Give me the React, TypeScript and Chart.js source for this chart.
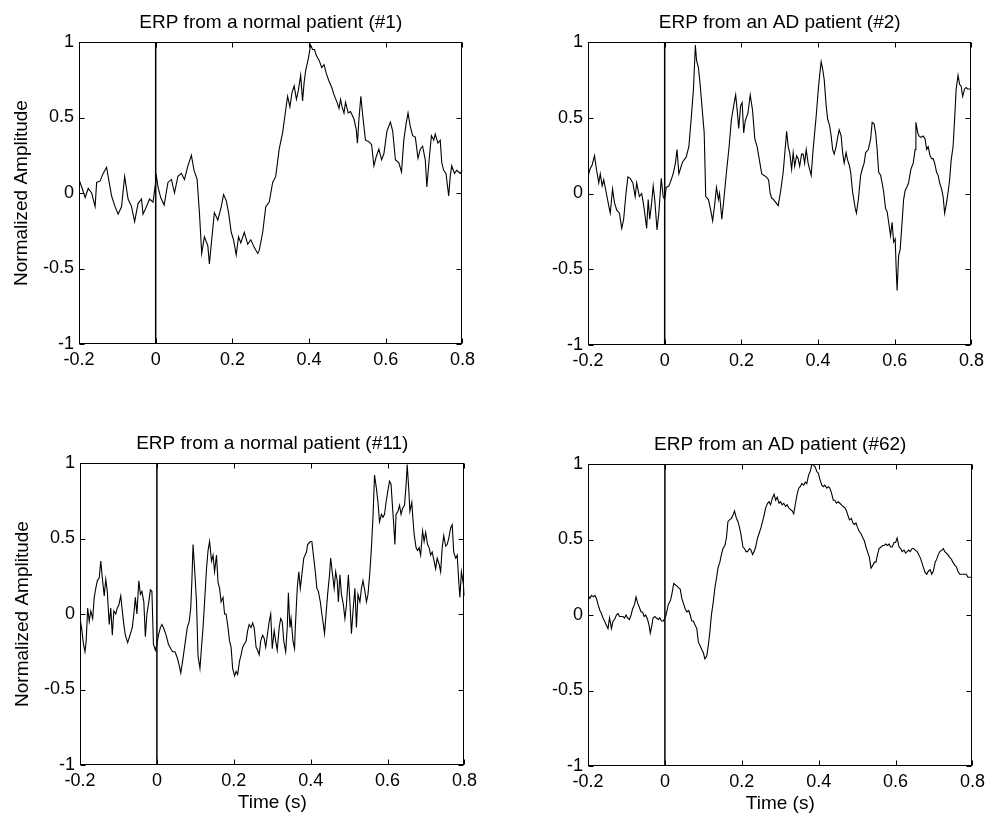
import React, { useEffect, useRef } from 'react';
import { Chart, registerables } from 'chart.js';

Chart.register(...registerables);

// ---------- Axis definitions ----------
const X_TICKS = [-0.2, 0, 0.2, 0.4, 0.6, 0.8];
const X_TICK_LABELS = ['-0.2', '0', '0.2', '0.4', '0.6', '0.8'];
const Y_TICKS = [-1, -0.5, 0, 0.5, 1];
const Y_TICK_LABELS = ['-1', '-0.5', '0', '0.5', '1'];
const X_RANGE = [-0.2, 0.8];
const Y_RANGE = [-1, 1];
const STIMULUS_ONSET = 0;
const X_AXIS_TITLE = 'Time (s)';
const Y_AXIS_TITLE = 'Normalized Amplitude';

// ---------- Panel titles ----------
const TITLES = [
  'ERP from a normal patient (#1)',
  'ERP from an AD patient (#2)',
  'ERP from a normal patient (#11)',
  'ERP from an AD patient (#62)',
];

// ---------- Series: [time (s), normalized amplitude] ----------
const ERP_NORMAL_1: [number, number][] = [
  [-0.2, 0.09], [-0.193, 0.04], [-0.184, -0.03], [-0.176, 0.03], [-0.167, 0.0], [-0.158, -0.09], [-0.154, 0.07],
  [-0.145, 0.08], [-0.137, 0.13], [-0.128, 0.17], [-0.124, 0.11], [-0.115, -0.02], [-0.106, -0.09], [-0.098, -0.14],
  [-0.089, -0.09], [-0.081, 0.11], [-0.072, -0.04], [-0.063, -0.09], [-0.055, -0.19], [-0.046, -0.07], [-0.037, -0.04],
  [-0.033, -0.14], [-0.024, -0.09], [-0.016, -0.04], [-0.007, -0.06], [0.002, 0.11], [0.006, 0.04], [0.013, -0.03],
  [0.022, -0.08], [0.032, 0.07], [0.041, 0.09], [0.049, 0.0], [0.058, 0.11], [0.067, 0.13], [0.075, 0.09],
  [0.084, 0.18], [0.093, 0.25], [0.1, 0.15], [0.108, 0.09], [0.114, -0.13], [0.12, -0.4], [0.127, -0.29],
  [0.136, -0.35], [0.14, -0.47], [0.146, -0.31], [0.153, -0.13], [0.162, -0.18], [0.171, -0.09], [0.177, -0.01],
  [0.184, -0.05], [0.19, -0.13], [0.197, -0.26], [0.203, -0.31], [0.21, -0.41], [0.216, -0.29], [0.222, -0.33],
  [0.231, -0.26], [0.24, -0.34], [0.248, -0.31], [0.257, -0.36], [0.266, -0.4], [0.27, -0.38], [0.279, -0.26],
  [0.287, -0.09], [0.296, -0.06], [0.305, 0.07], [0.313, 0.11], [0.322, 0.29], [0.331, 0.4], [0.339, 0.55],
  [0.344, 0.64], [0.35, 0.57], [0.355, 0.66], [0.361, 0.71], [0.367, 0.62], [0.372, 0.68], [0.378, 0.78],
  [0.383, 0.61], [0.387, 0.73], [0.391, 0.81], [0.398, 0.89], [0.404, 0.98], [0.409, 0.95], [0.414, 0.95],
  [0.419, 0.91], [0.426, 0.88], [0.433, 0.83], [0.439, 0.85], [0.445, 0.79], [0.452, 0.74], [0.459, 0.7],
  [0.465, 0.65], [0.473, 0.6], [0.478, 0.56], [0.482, 0.62], [0.486, 0.57], [0.491, 0.53], [0.495, 0.6],
  [0.502, 0.53], [0.508, 0.54], [0.517, 0.49], [0.523, 0.42], [0.526, 0.33], [0.53, 0.49], [0.535, 0.64],
  [0.54, 0.51], [0.547, 0.35], [0.556, 0.34], [0.563, 0.32], [0.569, 0.18], [0.575, 0.24], [0.582, 0.29],
  [0.589, 0.22], [0.595, 0.26], [0.603, 0.41], [0.612, 0.47], [0.618, 0.41], [0.625, 0.22], [0.634, 0.2],
  [0.641, 0.14], [0.647, 0.35], [0.653, 0.46], [0.658, 0.53], [0.664, 0.44], [0.67, 0.38], [0.677, 0.37],
  [0.684, 0.23], [0.69, 0.29], [0.696, 0.31], [0.703, 0.22], [0.707, 0.04], [0.713, 0.22], [0.719, 0.38],
  [0.725, 0.35], [0.729, 0.39], [0.736, 0.33], [0.742, 0.35], [0.746, 0.2], [0.751, 0.15], [0.757, 0.13],
  [0.764, -0.02], [0.768, 0.11], [0.772, 0.18], [0.779, 0.13], [0.785, 0.15], [0.794, 0.13], [0.8, 0.15],
];

const ERP_AD_2: [number, number][] = [
  [-0.2, 0.11], [-0.195, 0.16], [-0.189, 0.19], [-0.183, 0.25], [-0.178, 0.16], [-0.172, 0.07], [-0.168, 0.13],
  [-0.163, 0.05], [-0.159, 0.09], [-0.152, 0.0], [-0.146, -0.08], [-0.142, -0.13], [-0.136, 0.03], [-0.131, -0.06],
  [-0.125, -0.11], [-0.118, -0.13], [-0.112, -0.23], [-0.107, -0.17], [-0.101, 0.0], [-0.096, 0.11], [-0.09, 0.1],
  [-0.083, 0.07], [-0.077, -0.02], [-0.073, 0.07], [-0.066, -0.02], [-0.06, 0.0], [-0.056, -0.06], [-0.052, -0.13],
  [-0.047, -0.23], [-0.043, -0.04], [-0.039, -0.17], [-0.034, -0.06], [-0.03, 0.05], [-0.026, -0.04], [-0.02, -0.24],
  [-0.015, -0.12], [-0.009, 0.1], [-0.004, -0.02], [0.0, -0.04], [0.004, 0.04], [0.011, 0.05], [0.017, 0.09],
  [0.023, 0.14], [0.028, 0.2], [0.032, 0.29], [0.037, 0.13], [0.043, 0.18], [0.047, 0.21], [0.056, 0.24],
  [0.063, 0.31], [0.069, 0.49], [0.075, 0.69], [0.08, 0.98], [0.083, 0.88], [0.088, 0.83], [0.092, 0.73],
  [0.097, 0.58], [0.103, 0.4], [0.107, -0.02], [0.114, -0.04], [0.12, -0.11], [0.125, -0.18], [0.13, -0.08],
  [0.135, 0.04], [0.14, -0.04], [0.143, 0.0], [0.149, -0.17], [0.155, -0.02], [0.161, 0.14], [0.168, 0.31],
  [0.174, 0.49], [0.18, 0.58], [0.185, 0.65], [0.189, 0.55], [0.193, 0.43], [0.198, 0.58], [0.202, 0.6],
  [0.206, 0.4], [0.21, 0.48], [0.217, 0.53], [0.223, 0.65], [0.229, 0.55], [0.235, 0.36], [0.241, 0.31],
  [0.247, 0.22], [0.253, 0.13], [0.258, 0.12], [0.265, 0.11], [0.271, 0.09], [0.275, 0.0], [0.279, -0.03],
  [0.284, -0.04], [0.29, -0.06], [0.296, -0.08], [0.302, 0.01], [0.309, 0.14], [0.314, 0.29], [0.318, 0.41],
  [0.322, 0.31], [0.326, 0.27], [0.331, 0.16], [0.335, 0.27], [0.339, 0.18], [0.344, 0.25], [0.348, 0.23],
  [0.352, 0.18], [0.357, 0.26], [0.361, 0.26], [0.365, 0.2], [0.369, 0.29], [0.374, 0.2], [0.378, 0.16],
  [0.382, 0.12], [0.387, 0.29], [0.391, 0.4], [0.395, 0.51], [0.4, 0.67], [0.404, 0.78], [0.408, 0.87],
  [0.412, 0.82], [0.416, 0.75], [0.421, 0.58], [0.425, 0.49], [0.43, 0.45], [0.434, 0.38], [0.438, 0.29],
  [0.442, 0.26], [0.447, 0.31], [0.451, 0.37], [0.455, 0.42], [0.46, 0.38], [0.464, 0.27], [0.468, 0.2],
  [0.473, 0.27], [0.477, 0.22], [0.481, 0.19], [0.485, 0.14], [0.49, 0.01], [0.497, -0.1], [0.5, -0.13],
  [0.505, -0.04], [0.511, 0.12], [0.515, 0.16], [0.52, 0.2], [0.524, 0.27], [0.531, 0.29], [0.537, 0.36],
  [0.541, 0.47], [0.546, 0.46], [0.55, 0.4], [0.554, 0.29], [0.558, 0.14], [0.563, 0.12], [0.567, 0.07],
  [0.571, 0.01], [0.576, -0.1], [0.58, -0.12], [0.584, -0.19], [0.589, -0.28], [0.593, -0.19], [0.597, -0.32],
  [0.601, -0.3], [0.604, -0.52], [0.606, -0.64], [0.61, -0.41], [0.614, -0.37], [0.619, -0.19], [0.623, -0.04],
  [0.627, 0.02], [0.631, 0.04], [0.636, 0.07], [0.642, 0.16], [0.648, 0.2], [0.653, 0.29], [0.655, 0.47],
  [0.66, 0.4], [0.663, 0.38], [0.668, 0.37], [0.674, 0.38], [0.679, 0.36], [0.683, 0.29], [0.687, 0.31],
  [0.692, 0.25], [0.696, 0.23], [0.7, 0.23], [0.704, 0.2], [0.709, 0.14], [0.713, 0.12], [0.717, 0.07],
  [0.722, 0.03], [0.726, -0.02], [0.73, -0.13], [0.735, -0.06], [0.739, 0.01], [0.743, 0.09], [0.747, 0.22],
  [0.752, 0.31], [0.756, 0.49], [0.76, 0.69], [0.765, 0.78], [0.769, 0.72], [0.773, 0.71], [0.777, 0.64],
  [0.782, 0.69], [0.786, 0.7], [0.79, 0.69], [0.8, 0.69],
];

const ERP_NORMAL_11: [number, number][] = [
  [-0.2, -0.03], [-0.196, -0.09], [-0.191, -0.2], [-0.187, -0.25], [-0.184, -0.18], [-0.18, 0.04], [-0.176, -0.05],
  [-0.172, 0.02], [-0.167, -0.03], [-0.163, 0.11], [-0.159, 0.17], [-0.155, 0.22], [-0.15, 0.24], [-0.146, 0.35],
  [-0.142, 0.24], [-0.137, 0.12], [-0.133, 0.23], [-0.129, 0.15], [-0.124, -0.07], [-0.12, 0.04], [-0.116, -0.14],
  [-0.112, 0.02], [-0.107, 0.0], [-0.103, 0.04], [-0.099, 0.06], [-0.094, 0.12], [-0.09, 0.02], [-0.086, -0.07],
  [-0.082, -0.14], [-0.076, -0.19], [-0.07, -0.14], [-0.064, -0.09], [-0.06, 0.0], [-0.056, 0.11], [-0.052, 0.0],
  [-0.047, 0.22], [-0.043, 0.13], [-0.039, 0.15], [-0.034, 0.08], [-0.03, -0.15], [-0.026, 0.0], [-0.021, 0.08],
  [-0.017, 0.16], [-0.013, 0.15], [-0.009, -0.2], [-0.004, -0.24], [0.0, -0.2], [0.004, -0.14], [0.009, -0.09],
  [0.013, -0.07], [0.017, -0.09], [0.024, -0.14], [0.03, -0.2], [0.036, -0.23], [0.041, -0.25], [0.047, -0.25],
  [0.053, -0.29], [0.058, -0.34], [0.062, -0.39], [0.067, -0.31], [0.073, -0.2], [0.079, -0.09], [0.084, -0.05],
  [0.088, 0.04], [0.091, 0.22], [0.094, 0.46], [0.099, 0.26], [0.103, 0.08], [0.107, -0.28], [0.112, -0.36],
  [0.116, -0.22], [0.12, -0.09], [0.124, 0.08], [0.129, 0.3], [0.133, 0.42], [0.137, 0.48], [0.142, 0.35],
  [0.146, 0.39], [0.15, 0.28], [0.155, 0.39], [0.159, 0.21], [0.163, 0.17], [0.167, 0.08], [0.172, 0.11],
  [0.176, 0.0], [0.18, 0.0], [0.185, -0.09], [0.189, -0.18], [0.193, -0.22], [0.197, -0.36], [0.202, -0.41],
  [0.206, -0.38], [0.21, -0.4], [0.215, -0.31], [0.219, -0.27], [0.223, -0.22], [0.227, -0.2], [0.232, -0.18],
  [0.236, -0.11], [0.24, -0.07], [0.245, -0.09], [0.249, -0.06], [0.253, -0.09], [0.258, -0.22], [0.262, -0.24],
  [0.266, -0.27], [0.27, -0.18], [0.275, -0.14], [0.279, -0.16], [0.283, -0.22], [0.292, -0.05], [0.296, 0.0],
  [0.3, -0.23], [0.305, -0.11], [0.309, -0.18], [0.313, -0.24], [0.318, -0.09], [0.322, -0.03], [0.326, -0.05],
  [0.33, -0.18], [0.335, -0.25], [0.339, -0.09], [0.342, 0.14], [0.346, -0.09], [0.349, -0.03], [0.354, -0.18],
  [0.358, -0.23], [0.36, -0.09], [0.365, 0.17], [0.369, 0.28], [0.373, 0.17], [0.377, 0.26], [0.382, 0.37],
  [0.389, 0.41], [0.392, 0.46], [0.399, 0.48], [0.403, 0.48], [0.407, 0.39], [0.412, 0.28], [0.416, 0.17],
  [0.42, 0.15], [0.425, 0.08], [0.429, 0.0], [0.433, -0.07], [0.436, -0.13], [0.44, 0.0], [0.444, 0.13],
  [0.449, 0.26], [0.452, 0.37], [0.456, 0.28], [0.461, 0.17], [0.465, 0.28], [0.469, 0.22], [0.472, 0.08],
  [0.476, 0.26], [0.48, 0.13], [0.485, 0.06], [0.489, -0.03], [0.493, 0.06], [0.498, 0.26], [0.502, 0.08],
  [0.506, -0.13], [0.51, 0.02], [0.515, 0.17], [0.519, -0.09], [0.523, 0.13], [0.528, 0.08], [0.532, 0.17],
  [0.536, 0.22], [0.541, 0.15], [0.545, 0.08], [0.549, 0.13], [0.554, 0.28], [0.558, 0.44], [0.562, 0.64],
  [0.566, 0.92], [0.571, 0.83], [0.575, 0.74], [0.579, 0.61], [0.584, 0.66], [0.588, 0.64], [0.592, 0.66],
  [0.596, 0.74], [0.601, 0.82], [0.605, 0.88], [0.609, 0.86], [0.612, 0.74], [0.616, 0.59], [0.619, 0.46],
  [0.622, 0.66], [0.627, 0.68], [0.631, 0.72], [0.635, 0.66], [0.639, 0.7], [0.644, 0.72], [0.648, 0.85],
  [0.651, 0.99], [0.655, 0.83], [0.658, 0.68], [0.663, 0.74], [0.665, 0.66], [0.669, 0.53], [0.674, 0.44],
  [0.678, 0.42], [0.682, 0.44], [0.686, 0.39], [0.691, 0.55], [0.695, 0.48], [0.699, 0.54], [0.704, 0.46],
  [0.708, 0.44], [0.712, 0.39], [0.716, 0.41], [0.721, 0.35], [0.725, 0.3], [0.729, 0.37], [0.734, 0.33],
  [0.738, 0.28], [0.742, 0.44], [0.746, 0.52], [0.751, 0.45], [0.755, 0.46], [0.759, 0.5], [0.764, 0.57],
  [0.768, 0.59], [0.772, 0.41], [0.777, 0.37], [0.781, 0.39], [0.785, 0.22], [0.788, 0.11], [0.792, 0.28],
  [0.797, 0.2], [0.8, 0.12],
];

const ERP_AD_62: [number, number][] = [
  [-0.2, 0.13], [-0.195, 0.11], [-0.191, 0.13], [-0.186, 0.12], [-0.182, 0.13], [-0.178, 0.11], [-0.174, 0.07],
  [-0.169, 0.03], [-0.165, 0.01], [-0.161, -0.02], [-0.157, -0.04], [-0.152, -0.07], [-0.148, -0.09], [-0.144, -0.02],
  [-0.139, -0.09], [-0.135, -0.04], [-0.131, -0.03], [-0.126, 0.0], [-0.122, 0.01], [-0.118, -0.01], [-0.114, -0.01],
  [-0.109, -0.01], [-0.105, -0.02], [-0.101, 0.0], [-0.097, -0.02], [-0.092, -0.03], [-0.088, 0.0], [-0.084, 0.04],
  [-0.079, 0.07], [-0.075, 0.12], [-0.071, 0.08], [-0.067, 0.055], [-0.062, 0.02], [-0.058, 0.02], [-0.054, -0.01],
  [-0.05, 0.0], [-0.045, -0.03], [-0.041, -0.07], [-0.038, -0.12], [-0.034, -0.07], [-0.031, -0.02], [-0.026, -0.01],
  [-0.022, -0.02], [-0.017, -0.03], [-0.013, -0.02], [-0.009, -0.04], [-0.004, -0.04], [0.0, -0.02], [0.003, 0.0],
  [0.009, 0.07], [0.015, 0.1], [0.019, 0.15], [0.023, 0.21], [0.027, 0.2], [0.032, 0.19], [0.036, 0.18],
  [0.04, 0.17], [0.044, 0.11], [0.049, 0.07], [0.053, 0.04], [0.057, 0.02], [0.062, 0.03], [0.066, 0.0],
  [0.07, -0.04], [0.074, -0.04], [0.079, -0.07], [0.083, -0.09], [0.087, -0.18], [0.091, -0.2], [0.096, -0.23],
  [0.1, -0.25], [0.104, -0.29], [0.109, -0.27], [0.113, -0.2], [0.117, -0.11], [0.121, 0.0], [0.126, 0.09],
  [0.13, 0.18], [0.134, 0.24], [0.138, 0.31], [0.143, 0.35], [0.147, 0.4], [0.151, 0.44], [0.156, 0.46],
  [0.16, 0.51], [0.164, 0.62], [0.168, 0.63], [0.173, 0.64], [0.177, 0.66], [0.181, 0.69], [0.186, 0.64],
  [0.19, 0.62], [0.194, 0.58], [0.198, 0.53], [0.203, 0.45], [0.207, 0.44], [0.211, 0.42], [0.215, 0.42],
  [0.22, 0.44], [0.224, 0.43], [0.228, 0.4], [0.232, 0.42], [0.236, 0.45], [0.241, 0.51], [0.245, 0.54],
  [0.25, 0.58], [0.254, 0.62], [0.258, 0.66], [0.262, 0.71], [0.267, 0.74], [0.271, 0.75], [0.275, 0.73],
  [0.279, 0.77], [0.284, 0.8], [0.288, 0.76], [0.292, 0.78], [0.297, 0.74], [0.301, 0.75], [0.305, 0.73],
  [0.309, 0.74], [0.314, 0.72], [0.318, 0.73], [0.322, 0.71], [0.326, 0.7], [0.331, 0.69], [0.335, 0.67],
  [0.339, 0.73], [0.344, 0.8], [0.348, 0.84], [0.352, 0.85], [0.356, 0.87], [0.361, 0.86], [0.365, 0.88],
  [0.369, 0.87], [0.374, 0.93], [0.378, 0.95], [0.382, 0.995], [0.386, 0.995], [0.391, 0.98], [0.395, 0.95],
  [0.399, 0.94], [0.403, 0.9], [0.408, 0.86], [0.412, 0.85], [0.416, 0.86], [0.421, 0.84], [0.425, 0.85],
  [0.429, 0.84], [0.433, 0.81], [0.438, 0.76], [0.442, 0.76], [0.446, 0.74], [0.451, 0.75], [0.455, 0.74],
  [0.459, 0.73], [0.463, 0.72], [0.468, 0.71], [0.472, 0.69], [0.476, 0.66], [0.48, 0.63], [0.485, 0.64],
  [0.489, 0.61], [0.493, 0.6], [0.497, 0.61], [0.501, 0.58], [0.506, 0.55], [0.51, 0.54], [0.515, 0.51],
  [0.519, 0.49], [0.523, 0.45], [0.527, 0.42], [0.532, 0.38], [0.536, 0.31], [0.541, 0.33], [0.545, 0.35],
  [0.549, 0.35], [0.553, 0.4], [0.557, 0.44], [0.562, 0.45], [0.566, 0.46], [0.57, 0.46], [0.574, 0.47],
  [0.579, 0.46], [0.583, 0.47], [0.587, 0.45], [0.591, 0.45], [0.596, 0.48], [0.6, 0.48], [0.604, 0.51],
  [0.609, 0.45], [0.613, 0.44], [0.617, 0.42], [0.622, 0.43], [0.626, 0.41], [0.63, 0.42], [0.634, 0.43],
  [0.638, 0.42], [0.643, 0.44], [0.647, 0.44], [0.651, 0.43], [0.656, 0.42], [0.66, 0.4], [0.664, 0.38],
  [0.668, 0.35], [0.673, 0.31], [0.677, 0.28], [0.681, 0.27], [0.685, 0.29], [0.69, 0.3], [0.694, 0.27],
  [0.698, 0.29], [0.703, 0.35], [0.707, 0.37], [0.711, 0.4], [0.715, 0.42], [0.72, 0.43], [0.724, 0.44],
  [0.728, 0.42], [0.732, 0.41], [0.736, 0.4], [0.741, 0.38], [0.745, 0.37], [0.749, 0.35], [0.754, 0.33],
  [0.758, 0.32], [0.762, 0.29], [0.767, 0.27], [0.771, 0.27], [0.775, 0.27], [0.78, 0.27], [0.784, 0.27],
  [0.788, 0.25], [0.8, 0.25],
];

// ---------- Layout (page pixels of each plot box) ----------
const FONT_FAMILY = "'Liberation Sans', Arial, Helvetica, sans-serif";
const TITLE_SIZE = 19;
const TICK_SIZE = 18;
const LABEL_SIZE = 19;
const Y_AXIS_W = 79;
const TITLE_H = 42;
const X_AXIS_H = 52;
const PAD_RIGHT = 16;
const INNER_TICK = 5;

type PanelSpec = {
  title: string;
  series: [number, number][];
  plotLeft: number;
  plotTop: number;
  plotW: number;
  plotH: number;
  showYTitle: boolean;
  showXTitle: boolean;
};

const PANELS: PanelSpec[] = [
  { title: TITLES[0], series: ERP_NORMAL_1, plotLeft: 79, plotTop: 42, plotW: 385, plotH: 302, showYTitle: true, showXTitle: false },
  { title: TITLES[1], series: ERP_AD_2, plotLeft: 588, plotTop: 42, plotW: 385, plotH: 303, showYTitle: false, showXTitle: false },
  { title: TITLES[2], series: ERP_NORMAL_11, plotLeft: 80, plotTop: 463, plotW: 386, plotH: 302, showYTitle: true, showXTitle: true },
  { title: TITLES[3], series: ERP_AD_62, plotLeft: 588, plotTop: 464, plotW: 386, plotH: 302, showYTitle: false, showXTitle: true },
];

const boxPlugin = {
  id: 'matlabBox',
  afterDatasetsDraw(chart: any) {
    const { ctx, chartArea, scales } = chart;
    const L = Math.round(chartArea.left) + 0.5;
    const R = Math.round(chartArea.right) - 0.5;
    const T = Math.round(chartArea.top) + 0.5;
    const B = Math.round(chartArea.bottom) - 0.5;
    ctx.save();
    ctx.strokeStyle = '#000';
    ctx.lineWidth = 1;
    ctx.strokeRect(L, T, R - L, B - T);
    ctx.beginPath();
    for (const v of X_TICKS) {
      const px = Math.round(scales.x.getPixelForValue(v)) + 0.5;
      ctx.moveTo(px, B);
      ctx.lineTo(px, B - INNER_TICK);
      ctx.moveTo(px, T);
      ctx.lineTo(px, T + INNER_TICK);
    }
    for (const v of Y_TICKS) {
      const py = Math.round(scales.y.getPixelForValue(v)) + 0.5;
      ctx.moveTo(L, py);
      ctx.lineTo(L + INNER_TICK, py);
      ctx.moveTo(R, py);
      ctx.lineTo(R - INNER_TICK, py);
    }
    ctx.stroke();
    ctx.restore();
  },
};

function ErpPanel({ spec }: { spec: PanelSpec }) {
  const ref = useRef<HTMLCanvasElement | null>(null);
  const width = Y_AXIS_W + spec.plotW + PAD_RIGHT;
  const height = TITLE_H + spec.plotH + X_AXIS_H;

  useEffect(() => {
    const canvas = ref.current;
    if (!canvas) return;
    const chart = new Chart(canvas, {
      type: 'line',
      data: {
        datasets: [
          {
            data: spec.series.map(([x, y]) => ({ x, y })),
            borderColor: '#000',
            borderWidth: 1.1,
            pointRadius: 0,
            tension: 0,
            fill: false,
          },
          {
            data: [
              { x: STIMULUS_ONSET, y: Y_RANGE[0] },
              { x: STIMULUS_ONSET, y: Y_RANGE[1] },
            ],
            borderColor: '#000',
            borderWidth: 1.5,
            pointRadius: 0,
            fill: false,
          },
        ],
      },
      options: {
        animation: false,
        responsive: false,
        devicePixelRatio: 1,
        events: [],
        layout: { padding: { left: 0, right: PAD_RIGHT, top: 0, bottom: 0 } },
        plugins: {
          legend: { display: false },
          tooltip: { enabled: false },
          title: {
            display: true,
            fullSize: false,
            align: 'center',
            text: spec.title,
            color: '#000',
            font: { family: FONT_FAMILY, size: TITLE_SIZE, weight: 'normal', lineHeight: 1.2 },
            padding: { top: 11, bottom: TITLE_H - 11 - TITLE_SIZE * 1.2 },
          },
        },
        scales: {
          x: {
            type: 'linear',
            min: X_RANGE[0],
            max: X_RANGE[1],
            afterFit: (s: any) => {
              s.height = X_AXIS_H;
            },
            afterBuildTicks: (s: any) => {
              s.ticks = X_TICKS.map((v) => ({ value: v }));
            },
            ticks: {
              autoSkip: false,
              maxRotation: 0,
              padding: 5,
              color: '#000',
              font: { family: FONT_FAMILY, size: TICK_SIZE },
              callback: (v: any) => X_TICK_LABELS[X_TICKS.indexOf(Number(v))] ?? '',
            },
            grid: { display: false, drawTicks: false },
            border: { display: false },
            title: {
              display: spec.showXTitle,
              text: X_AXIS_TITLE,
              color: '#000',
              font: { family: FONT_FAMILY, size: LABEL_SIZE, lineHeight: 1.2 },
              padding: { top: 0, bottom: 3 },
            },
          },
          y: {
            type: 'linear',
            min: Y_RANGE[0],
            max: Y_RANGE[1],
            afterFit: (s: any) => {
              s.width = Y_AXIS_W;
            },
            afterBuildTicks: (s: any) => {
              s.ticks = Y_TICKS.map((v) => ({ value: v }));
            },
            ticks: {
              autoSkip: false,
              padding: 5,
              color: '#000',
              font: { family: FONT_FAMILY, size: TICK_SIZE },
              callback: (v: any) => Y_TICK_LABELS[Y_TICKS.indexOf(Number(v))] ?? '',
            },
            grid: { display: false, drawTicks: false },
            border: { display: false },
            title: {
              display: spec.showYTitle,
              text: Y_AXIS_TITLE,
              color: '#000',
              font: { family: FONT_FAMILY, size: LABEL_SIZE, lineHeight: 1.2 },
              padding: { top: 10, bottom: 0 },
            },
          },
        },
      } as any,
      plugins: [boxPlugin],
    });
    return () => chart.destroy();
  }, [spec]);

  return (
    <canvas
      ref={ref}
      width={width}
      height={height}
      style={{ display: 'block', width, height }}
    />
  );
}

export default function App() {
  return (
    <div
      style={{
        position: 'absolute',
        left: 0,
        top: 0,
        width: 992,
        height: 819,
        overflow: 'hidden',
        background: '#fff',
      }}
    >
      {PANELS.map((p, i) => (
        <div
          key={i}
          style={{
            position: 'absolute',
            left: p.plotLeft - Y_AXIS_W,
            top: p.plotTop - TITLE_H,
          }}
        >
          <ErpPanel spec={p} />
        </div>
      ))}
    </div>
  );
}
